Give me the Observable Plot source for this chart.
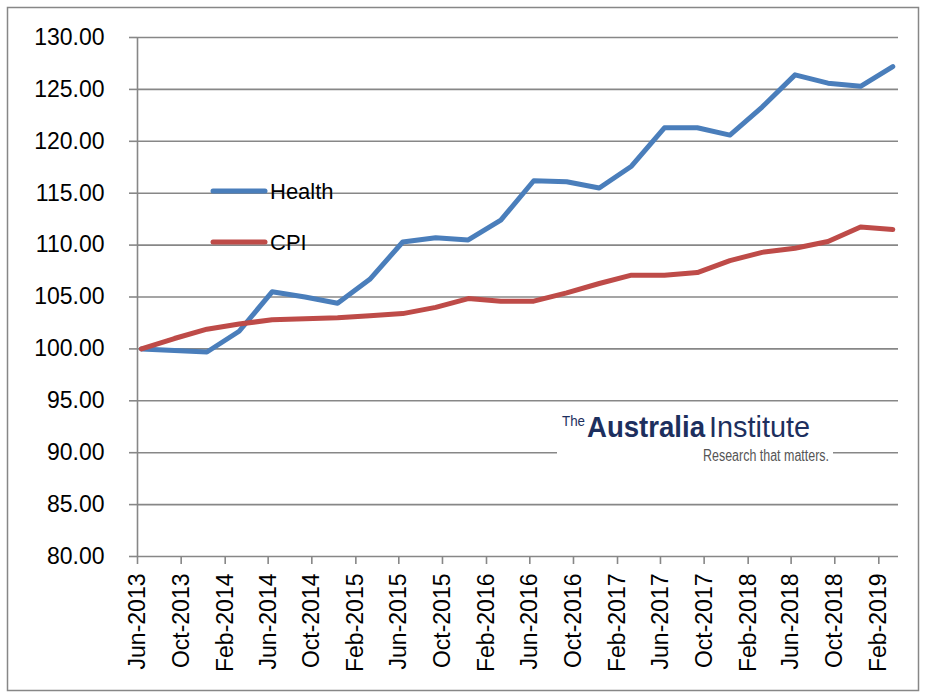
<!DOCTYPE html>
<html>
<head>
<meta charset="utf-8">
<script src="https://cdn.jsdelivr.net/npm/d3@7"></script>
<script src="https://cdn.jsdelivr.net/npm/@observablehq/plot@0.6"></script>
<style>
  html, body { margin: 0; padding: 0; background: white; }
  #chart { width: 928px; height: 695px; }
</style>
</head>
<body>
<div id="chart"></div>
<script>
// ---- data ----
const quarters = ["Jun-2013","Sep-2013","Dec-2013","Mar-2014","Jun-2014","Sep-2014","Dec-2014","Mar-2015",
  "Jun-2015","Sep-2015","Dec-2015","Mar-2016","Jun-2016","Sep-2016","Dec-2016","Mar-2017",
  "Jun-2017","Sep-2017","Dec-2017","Mar-2018","Jun-2018","Sep-2018","Dec-2018","Mar-2019"];
const health = [100.0, 99.85, 99.7, 101.7, 105.5, 105.0, 104.4, 106.7,
  110.3, 110.7, 110.5, 112.4, 116.2, 116.1, 115.5, 117.6,
  121.3, 121.3, 120.6, 123.3, 126.4, 125.6, 125.3, 127.2];
const cpi = [100.0, 101.0, 101.9, 102.4, 102.8, 102.9, 103.0, 103.2,
  103.4, 104.0, 104.85, 104.6, 104.6, 105.4, 106.3, 107.1,
  107.1, 107.35, 108.5, 109.3, 109.7, 110.35, 111.75, 111.5];
const seriesNames = ["Health", "CPI"];
const xTickLabels = ["Jun-2013","Oct-2013","Feb-2014","Jun-2014","Oct-2014","Feb-2015","Jun-2015","Oct-2015",
  "Feb-2016","Jun-2016","Oct-2016","Feb-2017","Jun-2017","Oct-2017","Feb-2018","Jun-2018","Oct-2018","Feb-2019"];
const yTicks = [80, 85, 90, 95, 100, 105, 110, 115, 120, 125, 130];

// ---- build ----
const parseM = d3.utcParse("%b-%Y");
const fmtM = d3.utcFormat("%b-%Y");
// points sit a little after the month tick, as in the source
const pointDate = s => d3.utcDay.offset(parseM(s), 11);
const rows = [];
quarters.forEach((q, i) => {
  rows.push({date: pointDate(q), value: health[i], series: seriesNames[0]});
  rows.push({date: pointDate(q), value: cpi[i], series: seriesNames[1]});
});
const xTicks = xTickLabels.map(parseM);
const xStart = xTicks[0];
const xEnd = d3.utcDay.offset(parseM(quarters[quarters.length - 1]), 27);

const gridColor = "#878787";
const FONT = "'Liberation Sans', Arial, sans-serif";

const chart = Plot.plot({
  width: 928,
  height: 695,
  marginLeft: 137,
  marginRight: 30,
  marginTop: 37,
  marginBottom: 139,
  style: {fontFamily: FONT, fontSize: "23px", background: "white", color: "black", overflow: "visible"},
  x: {type: "utc", domain: [xStart, xEnd]},
  y: {domain: [80, 130]},
  color: {domain: seriesNames, range: ["#4a7ebb", "#be4b48"]},
  marks: [
    Plot.gridY(yTicks, {stroke: gridColor, strokeOpacity: 1, strokeWidth: 1.6}),
    Plot.ruleX([xStart], {stroke: gridColor, strokeWidth: 1.6}),
    Plot.axisY(yTicks, {tickFormat: d3.format(".2f"), tickSize: 8, tickPadding: 25, stroke: gridColor, strokeWidth: 1.6, fill: "black", label: null, fontSize: 23}),
    Plot.axisX(xTicks, {tickFormat: fmtM, tickRotate: -90, tickSize: 8, tickPadding: 9, stroke: gridColor, strokeWidth: 1.6, fill: "black", label: null, fontSize: 23}),
    Plot.line(rows, {x: "date", y: "value", z: "series", stroke: "series", strokeWidth: 5, strokeLinecap: "round", strokeLinejoin: "round"})
  ]
});

document.getElementById("chart").appendChild(chart);

// ---- decorations: outer border, legend, logo ----
const svg = d3.select(chart);
svg.insert("rect", ":first-child")
  .attr("x", 7.5).attr("y", 7.5).attr("width", 911).attr("height", 683)
  .attr("fill", "white").attr("stroke", gridColor).attr("stroke-width", 1.5);

const colors = ["#4a7ebb", "#be4b48"];
const legendY = [191, 242];
const lg = svg.append("g").attr("text-anchor", "start");
seriesNames.forEach((name, i) => {
  lg.append("line").attr("x1", 213).attr("x2", 265).attr("y1", legendY[i]).attr("y2", legendY[i])
    .attr("stroke", colors[i]).attr("stroke-width", 5).attr("stroke-linecap", "round");
  lg.append("text").attr("x", 270).attr("y", legendY[i]).attr("dy", "0.35em")
    .attr("font-family", FONT).attr("font-size", 22).attr("fill", "black").text(name);
});

const logo = svg.append("g").attr("text-anchor", "start");
logo.append("rect").attr("x", 557).attr("y", 402).attr("width", 276).attr("height", 63).attr("fill", "white");
logo.append("text").attr("x", 562).attr("y", 426).attr("font-family", FONT).attr("font-size", 15)
  .attr("fill", "#1d2f5e").attr("textLength", 23).attr("lengthAdjust", "spacingAndGlyphs").text("The");
logo.append("text").attr("x", 587).attr("y", 437).attr("font-family", FONT).attr("font-size", 29).attr("font-weight", "bold")
  .attr("fill", "#1d2f5e").attr("textLength", 118).attr("lengthAdjust", "spacingAndGlyphs").text("Australia");
logo.append("text").attr("x", 709).attr("y", 437).attr("font-family", FONT).attr("font-size", 29)
  .attr("fill", "#1d2f5e").attr("textLength", 101).attr("lengthAdjust", "spacingAndGlyphs").text("Institute");
logo.append("text").attr("x", 703).attr("y", 461).attr("font-family", FONT).attr("font-size", 16)
  .attr("fill", "#555555").attr("textLength", 126).attr("lengthAdjust", "spacingAndGlyphs").text("Research that matters.");
</script>
</body>
</html>
